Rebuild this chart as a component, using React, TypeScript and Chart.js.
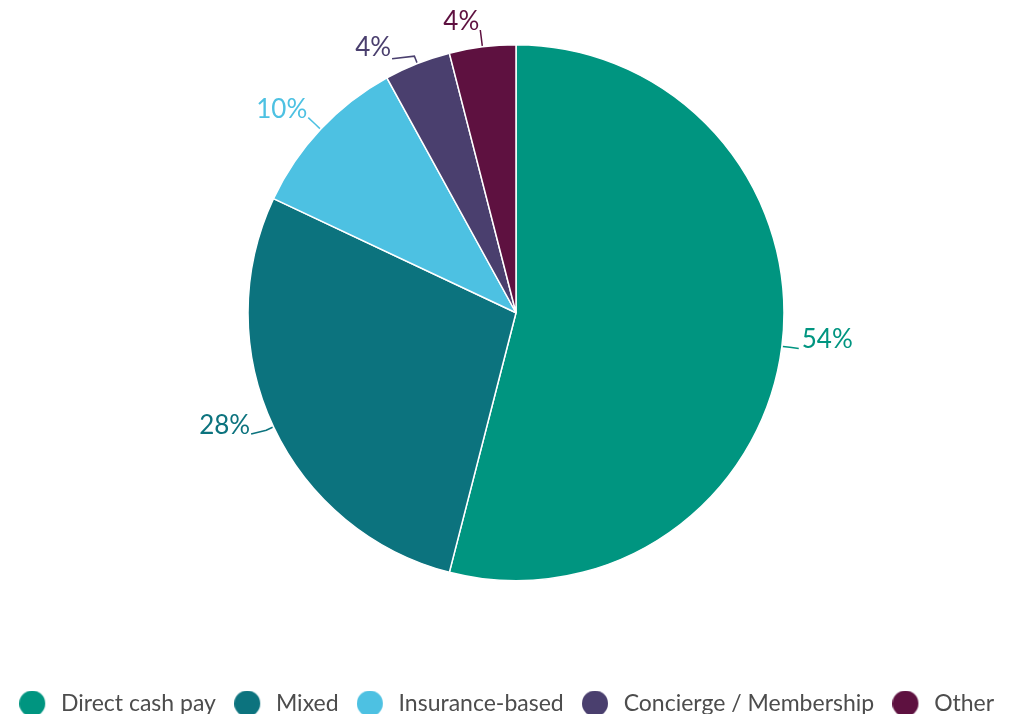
import React, { useEffect, useRef } from "react";
import { Chart, registerables } from "chart.js";

Chart.register(...registerables);

const categories = ["Direct cash pay", "Mixed", "Insurance-based", "Concierge / Membership", "Other"];
const shares = [54, 28, 10, 4, 4];
const colors = ["#009580", "#0C737E", "#4DC1E2", "#4A3F6E", "#5E1140"];
// small per-label nudges (dx, dy) applied to outside label anchors to avoid crowding
const labelShift = [
  [0, 0],
  [-7, 0],
  [0, 0],
  [-19, 11],
  [0, 0],
];

function dot(color: string) {
  const c = document.createElement("canvas");
  c.width = 30;
  c.height = 26;
  const ctx = c.getContext("2d")!;
  ctx.fillStyle = color;
  ctx.beginPath();
  ctx.arc(13, 13, 13, 0, Math.PI * 2);
  ctx.fill();
  return c;
}

const pieLabels = {
  id: "pieLabels",
  afterDatasetsDraw(chart: any) {
    const ctx = chart.ctx;
    const meta = chart.getDatasetMeta(0);
    meta.data.forEach((arc: any, i: number) => {
      const { x, y, startAngle, endAngle, outerRadius } = arc.getProps(
        ["x", "y", "startAngle", "endAngle", "outerRadius"],
        true
      );
      const mid = (startAngle + endAngle) / 2;
      const c = Math.cos(mid);
      const s = Math.sin(mid);
      const p0 = [x + c * (outerRadius + 1), y + s * (outerRadius + 1)];
      const p1 = [x + c * (outerRadius + 8), y + s * (outerRadius + 8)];
      const [sx, sy] = labelShift[i];
      const a = [x + c * (outerRadius + 17) + sx, y + s * (outerRadius + 17) + sy];
      ctx.save();
      ctx.strokeStyle = colors[i];
      ctx.lineWidth = 1.5;
      ctx.beginPath();
      ctx.moveTo(p0[0], p0[1]);
      ctx.lineTo(p1[0], p1[1]);
      ctx.lineTo(a[0], a[1]);
      ctx.stroke();
      ctx.font = "26px Lato";
      ctx.fillStyle = colors[i];
      ctx.textBaseline = "alphabetic";
      const right = c >= 0;
      ctx.textAlign = right ? "left" : "right";
      ctx.fillText(shares[i] + "%", right ? a[0] + 3 : a[0] - 1, a[1] - (sy ? 3 : 0));
      ctx.restore();
    });
  },
};

export default function App() {
  const ref = useRef<HTMLCanvasElement>(null);
  useEffect(() => {
    const chart = new Chart(ref.current!, {
      type: "pie",
      data: {
        labels: categories,
        datasets: [
          {
            data: shares,
            backgroundColor: colors,
            borderColor: "#ffffff",
            borderWidth: 1.5,
            radius: 268,
          },
        ],
      },
      options: {
        responsive: false,
        animation: false,
        devicePixelRatio: 1,
        layout: { padding: { top: 44, left: 1, right: 0, bottom: 0 } },
        plugins: {
          tooltip: { enabled: false },
          legend: {
            position: "bottom",
            align: "start",
            title: {
              display: true,
              text: "",
              font: { size: 10, lineHeight: 1 },
              padding: { top: 42, bottom: 40.5 },
            },
            labels: {
              usePointStyle: true,
              pointStyleWidth: 30.5,
              padding: 18,
              color: "#4d4d4d",
              font: { family: "Lato", size: 23 },
              generateLabels: (chart: any) => {
                const items = Chart.overrides.pie.plugins.legend.labels.generateLabels(chart);
                return items.map((it: any, i: number) => ({ ...it, pointStyle: dot(colors[i]) }));
              },
            },
          },
        },
      } as any,
      plugins: [pieLabels],
    });
    return () => chart.destroy();
  }, []);
  return (
    <div
      style={{
        position: "fixed",
        left: 0,
        top: 0,
        width: 1023,
        height: 714,
        overflow: "hidden",
        background: "#ffffff",
      }}
    >
      <canvas ref={ref} width={1031} height={725} style={{ display: "block" }} />
    </div>
  );
}
